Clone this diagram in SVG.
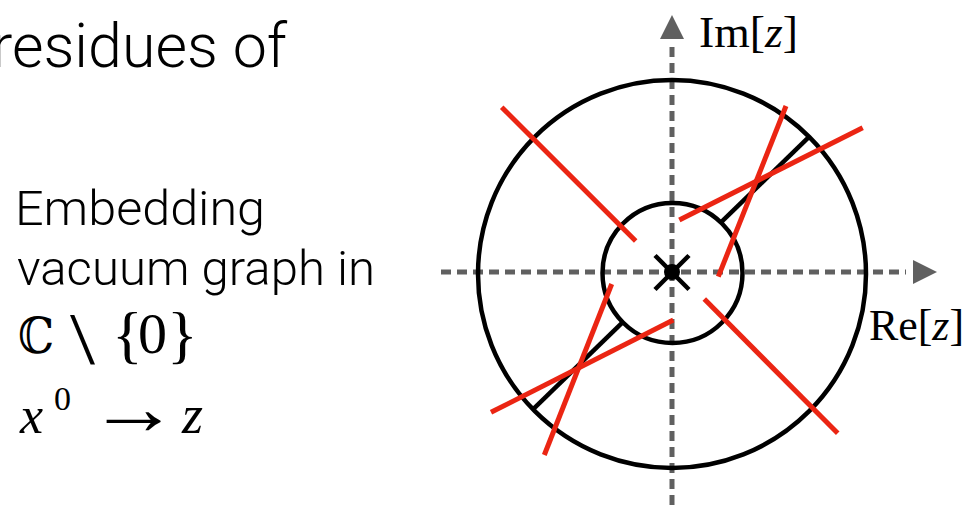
<svg xmlns="http://www.w3.org/2000/svg" width="971" height="507" viewBox="0 0 971 507">
<style>
.sans{font-family:Roboto,"Liberation Sans",sans-serif;font-weight:300;fill:#000}
.serif{font-family:"Liberation Serif","DejaVu Serif",serif;fill:#000}
.it{font-style:italic}
.axis{stroke:#606060;stroke-width:5;stroke-dasharray:10 6;fill:none}
.head{fill:#606060}
.ring{stroke:#000;stroke-width:4.5;fill:none}
.blk{stroke:#000;stroke-width:4.5;fill:none}
.red{stroke:#eb2513;stroke-width:5;fill:none}
</style>
<rect width="971" height="507" fill="#fff"/>
<g id="title">
<text class="sans" x="-8" y="67" font-size="62" textLength="295" lengthAdjust="spacingAndGlyphs">residues of</text>
</g>
<g id="caption">
<text class="serif" x="18" y="353" font-size="50" style="font-family:'DejaVu Serif',serif" textLength="36" lengthAdjust="spacingAndGlyphs">ℂ</text>
<text class="serif" x="70" y="364" font-size="74" textLength="25" lengthAdjust="spacingAndGlyphs">\</text>
<text class="serif" x="112" y="356" font-size="64">{</text>
<text class="serif" x="138" y="353" font-size="58">0</text>
<text class="serif" x="167" y="356" font-size="64">}</text>
<text class="sans" x="15" y="225" font-size="49" textLength="250" lengthAdjust="spacingAndGlyphs">Embedding</text>
<text class="sans" x="17" y="285" font-size="49" textLength="358" lengthAdjust="spacingAndGlyphs">vacuum graph in</text>
<text class="serif it" x="20" y="433" font-size="52">x</text>
<text class="serif" x="54" y="410" font-size="34">0</text>
<text class="serif" transform="translate(88,434) scale(1.9,1.6)" x="0" y="0" font-size="48">→</text>
<text class="serif it" x="182" y="433" font-size="54">z</text>
</g>
<g id="axes">
<line class="axis" x1="441" y1="272" x2="906" y2="272"/>
<polygon class="head" points="913,260 937,272 913,284"/>
<line class="axis" x1="672" y1="47" x2="672" y2="507"/>
<polygon class="head" points="660,39 672,15 684,39"/>
<text class="serif" x="699" y="47" font-size="44" textLength="99" lengthAdjust="spacingAndGlyphs">Im[<tspan class="it">z</tspan>]</text>
<text class="serif" x="869" y="340" font-size="44" textLength="95" lengthAdjust="spacingAndGlyphs">Re[<tspan class="it">z</tspan>]</text>
</g>
<g id="outer-circle"><circle class="ring" cx="672" cy="274" r="194"/></g>
<g id="inner-circle"><circle class="ring" cx="672.5" cy="273" r="70"/></g>
<g id="origin">
<line class="blk" x1="655" y1="255.5" x2="689" y2="289.5"/>
<line class="blk" x1="655" y1="289.5" x2="689" y2="255.5"/>
<circle cx="672" cy="272" r="8" fill="#000"/>
</g>
<g id="connectors">
<line class="blk" x1="721.7" y1="221.7" x2="809.3" y2="136.7"/>
<line class="blk" x1="622.3" y1="322.7" x2="534" y2="408.3"/>
<line class="red" x1="501.7" y1="107.3" x2="635.7" y2="241"/>
<line class="red" x1="704.3" y1="299" x2="837.7" y2="433.3"/>
<line class="red" x1="786" y1="106" x2="718.3" y2="276.7"/>
<line class="red" x1="862.7" y1="127.7" x2="679.3" y2="220"/>
<line class="red" x1="611.7" y1="284" x2="544.3" y2="455"/>
<line class="red" x1="673.3" y1="320" x2="491" y2="412.3"/>
</g>
</svg>
